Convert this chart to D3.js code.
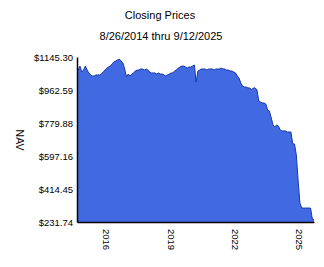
<!DOCTYPE html>
<html><head><meta charset="utf-8">
<script src="https://cdn.jsdelivr.net/npm/d3@7"></script>
<style>
html,body{margin:0;padding:0;background:#fff;}
svg{display:block;font-family:"Liberation Sans",Arial,sans-serif;}
</style></head>
<body>
<svg id="chart" width="324" height="267"></svg>
<script>
const titleText = "Closing Prices";
const subtitleText = "8/26/2014 thru 9/12/2025";
const yAxisLabel = "NAV";
const yTickValues = [231.74, 414.45, 597.16, 779.88, 962.59, 1145.30];
const xTickYears = [2016, 2019, 2022, 2025];
const startDate = "2014-08-26";
const endDate = "2025-09-12";
// monthly closing NAV, mid-Sep 2014 .. mid-Aug 2025
const monthDates = d3.timeMonths(new Date(2014, 8, 1), new Date(2025, 8, 1)).map(d => d3.timeDay.offset(d, 14));
const navValues = [
 1073,1095,1062,1073,1095,1073,1057,1046,1040,1040,1046,1046,
 1046,1051,1062,1073,1084,1090,1095,1107,1118,1123,1129,1134,
 1123,1112,1079,1035,1051,1040,1051,1057,1068,1073,1073,1079,
 1079,1073,1079,1073,1062,1057,1057,1057,1051,1057,1051,1051,
 1046,1040,1046,1051,1057,1057,1068,1073,1084,1090,1095,1095,
 1090,1084,1090,1090,1095,1101,1007,1068,1073,1079,1079,1079,
 1073,1079,1079,1079,1073,1079,1079,1079,1084,1079,1079,1073,
 1073,1068,1068,1062,1057,1040,1029,1001,985,979,979,974,
 974,963,974,974,963,902,896,891,891,885,852,846,
 808,769,758,769,763,741,736,736,736,730,730,730,
 664,664,603,464,337,309,309,309,309,309,309,248
];
const lastValue = 245;

const data = [{date: new Date(2014, 7, 26), value: navValues[0]}];
monthDates.forEach((m, i) => data.push({date: m, value: navValues[i]}));
data.push({date: new Date(2025, 8, 12), value: lastValue});

const svg = d3.select("#chart");
const mLeft = 77, mRight = 314, mTop = 57, mBottom = 222;

const x = d3.scaleTime().domain([new Date(2014, 7, 26), new Date(2025, 8, 12)]).range([mLeft, mRight]);
const y = d3.scaleLinear().domain([yTickValues[0], yTickValues[yTickValues.length-1]]).range([mBottom, mTop]);

svg.append("text").attr("x", 160).attr("y", 19).attr("text-anchor", "middle")
  .attr("font-size", 11).text(titleText);
svg.append("text").attr("x", 161).attr("y", 40).attr("text-anchor", "middle")
  .attr("font-size", 11).text(subtitleText);

const area = d3.area().x(d => x(d.date)).y0(mBottom).y1(d => y(d.value));
const line = d3.line().x(d => x(d.date)).y(d => y(d.value));

svg.append("path").datum(data).attr("d", area).attr("fill", "#4169e1");
svg.append("path").datum(data).attr("d", line).attr("fill", "none")
  .attr("stroke", "#1737a8").attr("stroke-width", 1);

// y axis
const yAxis = d3.axisLeft(y).tickValues(yTickValues).tickSize(0).tickPadding(4)
  .tickFormat(d => "$" + d.toFixed(2));
const gy = svg.append("g").attr("transform", `translate(${mLeft},0)`).call(yAxis);
gy.select(".domain").attr("stroke", "#000").attr("stroke-width", 1.5);
gy.selectAll("text").attr("font-size", 9.5).attr("fill", "#000")
  .attr("font-family", "'Liberation Sans',Arial,sans-serif");

// x axis
const xAxis = d3.axisBottom(x).tickValues(xTickYears.map(yr => new Date(yr, 0, 1)))
  .tickSize(0).tickFormat(d3.timeFormat("%Y"));
const gx = svg.append("g").attr("transform", `translate(0,${mBottom})`).call(xAxis);
gx.select(".domain").attr("stroke", "#000").attr("stroke-width", 1.5);
gx.selectAll("text").attr("font-size", 9.5).attr("fill", "#000")
  .attr("font-family", "'Liberation Sans',Arial,sans-serif")
  .attr("transform", "rotate(90)").attr("text-anchor", "start")
  .attr("x", 7).attr("y", 0).attr("dy", "0.35em");

svg.append("text").attr("transform", "translate(20,140) rotate(90)")
  .attr("text-anchor", "middle").attr("dy", "0.35em").attr("font-size", 10.5).text(yAxisLabel);
</script>
</body></html>
